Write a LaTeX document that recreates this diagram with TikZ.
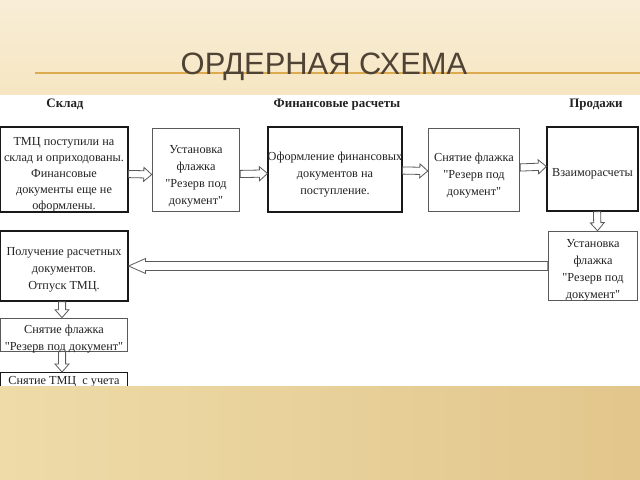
\documentclass[tikz,border=0pt]{standalone}
\usepackage{fontspec}
\setmainfont{Liberation Serif}[Ligatures=TeXOff]
\newfontfamily\titlefont{Liberation Sans}
\usetikzlibrary{calc}
\definecolor{topbg}{HTML}{F8EDD6}
\definecolor{topbgb}{HTML}{F6E6C2}
\definecolor{botl}{HTML}{EEDBA8}
\definecolor{botr}{HTML}{E2C68C}
\definecolor{titlecol}{HTML}{4E4335}
\definecolor{rulecol}{HTML}{DDAA50}
\definecolor{thincol}{HTML}{5A5A5A}
\definecolor{txt}{HTML}{222222}
\newcommand\bahl{8bp}
\newcommand\bahw{7bp}
\newcommand\basw{3.6bp}
\begin{document}
\begin{tikzpicture}[x=1bp,y=-1bp,
  boxthick/.style={draw=black!90, line width=1.6bp, fill=white, inner sep=0pt},
  boxthin/.style={draw=thincol, line width=0.8bp, fill=white, inner sep=0pt},
  boxtxt/.style={text=txt, align=center, inner sep=0pt, font=\fontsize{12.3}{17}\selectfont},
  header/.style={font=\fontsize{13}{15}\selectfont\bfseries, text=txt, anchor=base},
  blockarrow/.style={draw=thincol, line width=0.8bp, line join=miter,
    to path={(\tikztostart) coordinate (bs) (\tikztotarget) coordinate (bt)
      ($(bt)!\bahl!(bs)$) coordinate (bh)
      ($(bs)!\basw!90:(bt)$) -- ($(bh)!\basw!-90:(bs)$) -- ($(bh)!\bahw!-90:(bs)$)
      -- (bt) -- ($(bh)!\bahw!90:(bs)$) -- ($(bh)!\basw!90:(bs)$)
      -- ($(bs)!\basw!-90:(bt)$) -- cycle}},
  longhead/.style={/utils/exec={\def\bahl{17bp}\def\bahw{7.5bp}\def\basw{4.5bp}}}
]
\useasboundingbox (0,0) rectangle (640,480);
% backgrounds
\shade[top color=topbg, bottom color=topbgb] (0,0) rectangle (640,95);
\fill[white] (0,95) rectangle (640,386);
% title
\draw[rulecol, line width=1.2bp] (35,73) -- (640,73);
\node[font=\titlefont\fontsize{31}{31}\selectfont, text=titlecol, anchor=base] (title) at (324,75) {ОРДЕРНАЯ СХЕМА};
% headers
\node[header] (h1) at (65,108) {Склад};
\node[header] (h2) at (337,108) {Финансовые расчеты};
\node[header] (h3) at (596,108) {Продажи};
% boxes
\node[boxthick, minimum width=128, minimum height=85,
  label={[name=At, boxtxt, font=\fontsize{12.3}{16.1}\selectfont, yshift=-5.5bp]center:{ТМЦ поступили на\\склад и оприходованы.\\Финансовые\\документы еще не\\оформлены.}}] (A) at (64,169.5) {};
\node[boxthin, minimum width=88, minimum height=84,
  label={[name=Bt, boxtxt, yshift=-6bp]center:{Установка\\флажка\\"Резерв под\\документ"}}] (B) at (196,170) {};
\node[boxthick, minimum width=134, minimum height=85,
  label={[name=Ct, boxtxt, yshift=-5bp]center:{Оформление финансовых\\документов на\\поступление.}}] (C) at (335,169.5) {};
\node[boxthin, minimum width=92, minimum height=84,
  label={[name=Dt, boxtxt, yshift=-6bp]center:{Снятие флажка\\"Резерв под\\документ"}}] (D) at (474,170) {};
\node[boxthick, minimum width=91, minimum height=84,
  label={[name=Et, boxtxt, yshift=-5bp]center:{Взаиморасчеты}}] (E) at (592.5,169) {};
\node[boxthick, minimum width=128, minimum height=70,
  label={[name=Ft, boxtxt, yshift=-4bp]center:{Получение расчетных\\документов.\\Отпуск ТМЦ.}}] (F) at (64,266) {};
\node[boxthin, minimum width=90, minimum height=70,
  label={[name=Gt, boxtxt, yshift=-4bp]center:{Установка\\флажка\\"Резерв под\\документ"}}] (G) at (593,266) {};
\node[boxthin, minimum width=128, minimum height=33,
  label={[name=Ht, boxtxt, yshift=-5bp]center:{Снятие флажка\\"Резерв под документ"}}] (H) at (64,334.5) {};
\node[boxthick, line width=1.2bp, anchor=north, minimum width=128, minimum height=34,
  label={[name=It, boxtxt, anchor=base, yshift=-12bp]north:{Снятие ТМЦ\ \ с учета}}] (I) at (64,372) {};
% arrows
\draw[blockarrow] ([yshift=-4.5bp]A.east) to ([yshift=-4.5bp]B.west);
\draw[blockarrow] ([yshift=-4bp]B.east) to ([yshift=-4bp]C.west);
\draw[blockarrow] ([yshift=-1bp]C.east) to ([yshift=-1bp]D.west);
\draw[blockarrow] ([yshift=2.5bp]D.east) to ([yshift=2.5bp]E.west);
\draw[blockarrow] ([xshift=4.5bp]E.south) to ([xshift=4.5bp]G.north);
\draw[blockarrow, longhead] (G.west) to (F.east);
\draw[blockarrow] ([xshift=-2bp]F.south) to ([xshift=-2bp]H.north);
\draw[blockarrow] ([xshift=-2bp]H.south) to ([xshift=-2bp]I.north);
% bottom band
\shade[left color=botl, right color=botr] (0,386) rectangle (640,480);
\end{tikzpicture}
\end{document}
